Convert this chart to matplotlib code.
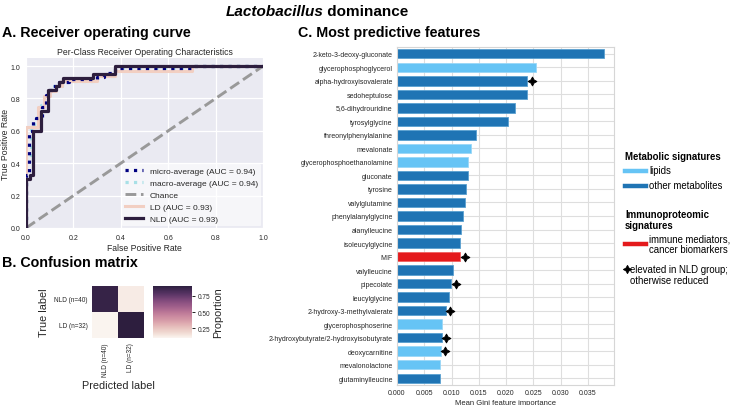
import matplotlib
matplotlib.use('Agg')
import matplotlib.pyplot as plt
import seaborn as sns
import numpy as np
from matplotlib.lines import Line2D
from matplotlib.ticker import FormatStrFormatter

# ---------------- data ----------------
# ROC curves
nld_fpr = [0, 0, 0.015, 0.015, 0.03125, 0.03125, 0.0625, 0.0625, 0.09375, 0.09375, 0.125, 0.125,
           0.140625, 0.140625, 0.15625, 0.15625, 0.28125, 0.28125, 0.375, 0.375, 1.0]
nld_tpr = [0, 0.3, 0.3, 0.325, 0.325, 0.6, 0.6, 0.725, 0.725, 0.85, 0.85, 0.875,
           0.875, 0.9, 0.9, 0.925, 0.925, 0.95, 0.95, 1.0, 1.0]
ld_fpr = [0, 0, 0.05, 0.05, 0.075, 0.075, 0.1, 0.1, 0.125, 0.125, 0.15, 0.15, 0.3, 0.3,
          0.375, 0.375, 0.7, 0.7, 1.0]
ld_tpr = [0, 0.625, 0.625, 0.75, 0.75, 0.8125, 0.8125, 0.84375, 0.84375, 0.875, 0.875, 0.90625,
          0.90625, 0.9375, 0.9375, 0.96875, 0.96875, 1.0, 1.0]
micro_fpr = [0, 0, 0.014, 0.014, 0.028, 0.028, 0.042, 0.042, 0.069, 0.069, 0.083, 0.083, 0.097, 0.097,
             0.111, 0.111, 0.125, 0.125, 0.14, 0.14, 0.18, 0.18, 0.3, 0.3, 0.33, 0.33, 0.375, 0.375,
             0.7, 0.7, 1.0]
micro_tpr = [0, 0.33, 0.33, 0.6, 0.6, 0.667, 0.667, 0.68, 0.68, 0.75, 0.75, 0.82, 0.82, 0.85,
             0.85, 0.875, 0.875, 0.89, 0.89, 0.9, 0.9, 0.92, 0.92, 0.93, 0.93, 0.96, 0.96, 0.986,
             0.986, 1.0, 1.0]
macro_fpr = [0, 0, 0.02, 0.02, 0.035, 0.035, 0.065, 0.065, 0.09, 0.09, 0.12, 0.12, 0.15, 0.15,
             0.3, 0.3, 0.375, 0.375, 0.7, 0.7, 1.0]
macro_tpr = [0, 0.45, 0.45, 0.62, 0.62, 0.68, 0.68, 0.76, 0.76, 0.85, 0.85, 0.88, 0.88, 0.91,
             0.91, 0.94, 0.94, 0.984, 0.984, 1.0, 1.0]
roc_labels = ['micro-average (AUC = 0.94)', 'macro-average (AUC = 0.94)', 'Chance',
              'LD (AUC = 0.93)', 'NLD (AUC = 0.93)']

# Confusion matrix (proportions)
cm_classes = ['NLD (n=40)', 'LD (n=32)']
cm_values = [[0.875, 0.125],
             [0.094, 0.906]]

# Feature importances
features = ['2-keto-3-deoxy-gluconate', 'glycerophosphoglycerol', 'alpha-hydroxyisovalerate',
            'sedoheptulose', '5,6-dihydrouridine', 'tyrosylglycine', 'threonylphenylalanine',
            'mevalonate', 'glycerophosphoethanolamine', 'gluconate', 'tyrosine', 'valylglutamine',
            'phenylalanylglycine', 'alanylleucine', 'isoleucylglycine', 'MIF', 'valylleucine',
            'pipecolate', 'leucylglycine', '2-hydroxy-3-methylvalerate', 'glycerophosphoserine',
            '2-hydroxybutyrate/2-hydroxyisobutyrate', 'deoxycarnitine', 'mevalonolactone',
            'glutaminylleucine']
importance = [0.0379, 0.0255, 0.0239, 0.0238, 0.0217, 0.0204, 0.01456, 0.01364, 0.0130, 0.01295,
              0.0126, 0.01242, 0.01218, 0.01168, 0.01163, 0.0116, 0.01034, 0.0099, 0.00954,
              0.00893, 0.0082, 0.0082, 0.0080, 0.00783, 0.0078]
category = ['other', 'lipid', 'other', 'other', 'other', 'other', 'other', 'lipid', 'lipid', 'other',
            'other', 'other', 'other', 'other', 'other', 'immune', 'other', 'other', 'other', 'other',
            'lipid', 'other', 'lipid', 'lipid', 'other']
elevated = ['alpha-hydroxyisovalerate', 'MIF', 'pipecolate', '2-hydroxy-3-methylvalerate',
            '2-hydroxybutyrate/2-hydroxyisobutyrate', 'deoxycarnitine']

# ---------------- figure ----------------
W, H = 735, 406
plt.rcParams['font.family'] = ['Liberation Sans', 'DejaVu Sans']
fig = plt.figure(figsize=(7.35, 4.06), dpi=100)


def rect(l, t, r, b):
    return [l / W, 1 - b / H, (r - l) / W, (b - t) / H]


def ftext(x, y, s, **kw):
    return fig.text(x / W, 1 - y / H, s, **kw)


TXT = '#262626'

# suptitle in two parts (italic genus name)
fig.canvas.draw()
renderer = fig.canvas.get_renderer()
t1 = ftext(0, 12, 'Lactobacillus', fontsize=11, weight='bold', style='italic', va='center')
t2 = ftext(0, 12, ' dominance', fontsize=11, weight='bold', va='center')
w1 = t1.get_window_extent(renderer).width
w2 = t2.get_window_extent(renderer).width
x0 = 317 - (w1 + w2) / 2
t1.set_x(x0 / W)
t2.set_x((x0 + w1) / W)

ftext(2, 33, 'A. Receiver operating curve', fontsize=10.3, weight='bold', va='center')
ftext(2, 263, 'B. Confusion matrix', fontsize=10.3, weight='bold', va='center')
ftext(298, 33, 'C. Most predictive features', fontsize=10.3, weight='bold', va='center')

# ---- A: ROC ----
ax = fig.add_axes(rect(26, 59, 263, 229))
ax.set_facecolor('#EAEAF2')
for s in ax.spines.values():
    s.set_visible(False)
ax.grid(True, color='white', lw=0.9)
ax.set_axisbelow(True)
cols = {'micro': 'navy', 'macro': '#a8e0e6', 'chance': '#999999', 'LD': '#f2cfc2', 'NLD': '#2d1e3e'}
ax.plot(micro_fpr, micro_tpr, ':', color=cols['micro'], lw=2.3, label=roc_labels[0], zorder=3)
ax.plot(macro_fpr, macro_tpr, ':', color=cols['macro'], lw=2.3, label=roc_labels[1], zorder=2)
ax.plot([0, 1], [0, 1], '--', color=cols['chance'], lw=2.1, label=roc_labels[2], zorder=2)
ax.plot(ld_fpr, ld_tpr, '-', color=cols['LD'], lw=2.2, label=roc_labels[3], zorder=2)
ax.plot(nld_fpr, nld_tpr, '-', color=cols['NLD'], lw=2.3, label=roc_labels[4], zorder=4)
ax.set_xlim(0, 1.0)
ax.set_ylim(0, 1.05)
ax.set_xticks(np.arange(0, 1.01, 0.2))
ax.set_yticks(np.arange(0, 1.01, 0.2))
ax.xaxis.set_major_formatter(FormatStrFormatter('%.1f'))
ax.yaxis.set_major_formatter(FormatStrFormatter('%.1f'))
ax.tick_params(length=0, labelsize=5, labelcolor=TXT, pad=4)
ax.set_xlabel('False Positive Rate', fontsize=6.2, color=TXT, labelpad=2)
ax.set_ylabel('True Positive Rate', fontsize=6.2, color=TXT, labelpad=0.5)
ax.set_title('Per-Class Receiver Operating Characteristics', fontsize=6.2, color=TXT, pad=3)
leg = ax.legend(loc='lower right', fontsize=6, frameon=True, facecolor='white', framealpha=0.6,
                edgecolor='none', labelspacing=0.5, handlelength=2.2, borderpad=0.4,
                borderaxespad=0.2)
for t in leg.get_texts():
    t.set_color(TXT)

# ---- B: confusion matrix ----
hax = fig.add_axes(rect(92, 287, 144, 339))
cax = fig.add_axes(rect(153, 287, 192, 339))
cmap = sns.cubehelix_palette(light=0.96, dark=0.15, as_cmap=True)
sns.heatmap(np.array(cm_values), ax=hax, cbar_ax=cax, cmap=cmap,
            xticklabels=cm_classes, yticklabels=cm_classes, square=False)
hax.tick_params(length=0, labelsize=4.7, labelcolor=TXT, pad=3)
hax.set_yticklabels(cm_classes, rotation=0)
hax.set_xticklabels(cm_classes, rotation=90)
hax.set_ylabel('True label', fontsize=7.8, color=TXT, labelpad=4)
hax.set_xlabel('Predicted label', fontsize=7.8, color=TXT, labelpad=3)
cax.set_yticks([0.25, 0.5, 0.75])
cax.tick_params(length=2.5, width=0.6, labelsize=4.7, labelcolor=TXT, pad=1.5)
for s in cax.spines.values():
    s.set_visible(False)
cax.set_ylabel('Proportion', fontsize=7.8, color=TXT, labelpad=2)

# ---- C: feature importances ----
bax = fig.add_axes(rect(397, 48, 614, 386))
colmap = {'lipid': '#66c4f5', 'other': '#1f74b4', 'immune': '#e41a1c'}
edgemap = {'lipid': '#9ad7f7', 'other': '#5aa0d0', 'immune': '#f06060'}
ypos = np.arange(len(features))
bax.barh(ypos, importance, height=0.7, color=[colmap[c] for c in category],
         edgecolor=[edgemap[c] for c in category], linewidth=0.6, zorder=2)
for i, f in enumerate(features):
    if f in elevated:
        bax.plot(importance[i] + 0.00085, i, marker=(4, 1, 0), ms=6.5, color='black',
                 mew=0.6, zorder=3)
bax.set_yticks(ypos)
bax.set_yticklabels(features)
bax.set_ylim(len(features) - 0.5, -0.5)
bax.set_xlim(0, max(importance) * 1.05)
bax.set_xticks(np.arange(0, 0.0351, 0.005))
bax.xaxis.set_major_formatter(FormatStrFormatter('%.3f'))
bax.grid(True, color='#dedede', lw=0.8)
bax.set_axisbelow(True)
for s in bax.spines.values():
    s.set_color('#d6d6d6')
    s.set_linewidth(0.8)
bax.tick_params(length=0, labelsize=5, labelcolor=TXT, pad=3)
bax.set_xlabel('Mean Gini feature importance', fontsize=5.5, color=TXT, labelpad=2)

# ---- C legend (drawn manually) ----
LS = 6.9
ftext(625, 157, 'Metabolic signatures', fontsize=LS, weight='bold', va='center')
fig.add_artist(Line2D([625 / W, 646 / W], [1 - 171.5 / H] * 2, color=colmap['lipid'], lw=3.2,
                      transform=fig.transFigure))
ftext(649, 171.5, 'lipids', fontsize=LS, va='center')
fig.add_artist(Line2D([625 / W, 646 / W], [1 - 186.5 / H] * 2, color=colmap['other'], lw=3.2,
                      transform=fig.transFigure))
ftext(649, 186.5, 'other metabolites', fontsize=LS, va='center')
ftext(625, 220.5, 'Immunoproteomic\nsignatures', fontsize=LS, weight='bold', va='center',
      linespacing=1.05)
fig.add_artist(Line2D([625 / W, 646 / W], [1 - 244.5 / H] * 2, color=colmap['immune'], lw=3.2,
                      transform=fig.transFigure))
ftext(649, 244.5, 'immune mediators,\ncancer biomarkers', fontsize=LS, va='center',
      linespacing=1.05)
fig.add_artist(Line2D([626.5 / W], [1 - 270 / H], marker=(4, 1, 0), ms=6, color='black', mew=0.6,
                      transform=fig.transFigure))
ftext(630, 275.5, 'elevated in NLD group;\notherwise reduced', fontsize=LS, va='center',
      linespacing=1.05)

fig.savefig('out.png', dpi=100)
